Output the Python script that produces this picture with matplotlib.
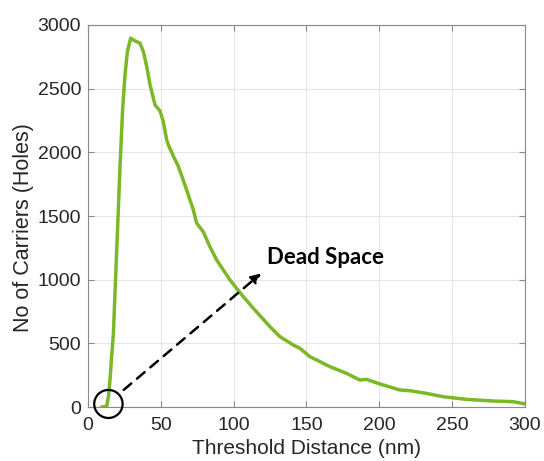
import numpy as np
import matplotlib
matplotlib.use("Agg")
import matplotlib.pyplot as plt
from matplotlib.patches import Ellipse

# threshold distance (nm) and number of carriers (holes)
dist = [9.6, 12.8, 14.0, 15.1, 16.2, 17.4, 19.0, 20.5, 22.0, 23.8, 25.4, 27.0,
        29.3, 32.3, 35.7, 38.0, 40.3, 42.6, 46.0, 49.4, 51.7, 54.0, 55.1, 58.6,
        62.0, 67.7, 72.3, 74.6, 79.1, 83.7, 88.3, 92.9, 97.5, 102.0, 106.6,
        113.5, 124.9, 131.8, 140.9, 145.5, 152.4, 166.1, 177.5, 186.7, 191.2,
        200.4, 214.0, 221.0, 232.4, 243.8, 259.9, 278.4, 292.0, 300.0]
carriers = [0, 5, 81, 212, 400, 570, 1030, 1460, 1901, 2346, 2608, 2791,
            2896, 2875, 2857, 2791, 2674, 2529, 2372, 2325, 2241, 2097, 2060,
            1970, 1890, 1705, 1548, 1443, 1377, 1259, 1155, 1076, 998, 932,
            867, 775, 631, 552, 487, 461, 395, 317, 264, 212, 217, 181, 134,
            128, 107, 81, 60, 47, 42, 24]

xticks = [0, 50, 100, 150, 200, 250, 300]
yticks = [0, 500, 1000, 1500, 2000, 2500, 3000]

plt.rcParams['font.family'] = ['Liberation Sans', 'DejaVu Sans']

fig = plt.figure(figsize=(5.44, 4.61), dpi=100)
ax = fig.add_axes([0.1618, 0.1171, 0.8032, 0.8287])

ax.plot(dist, carriers, color='#7ab828', linewidth=2.5, zorder=3)

ax.set_xlim(0, 300)
ax.set_ylim(0, 3000)
ax.set_xticks(xticks)
ax.set_yticks(yticks)
ax.grid(True, color='#e6e6e6', linewidth=0.8)
ax.set_axisbelow(True)
for s in ax.spines.values():
    s.set_color('#8a8a8a')
    s.set_linewidth(0.8)
ax.tick_params(direction='in', length=4, color='#8a8a8a', labelcolor='#262626',
               labelsize=14, top=True, right=True, labeltop=False, labelright=False)
ax.tick_params(axis='x', pad=7)
ax.tick_params(axis='y', pad=5)
ax.set_xlabel('Threshold Distance (nm)', fontsize=15, color='#262626', labelpad=4)
ax.set_ylabel('No of Carriers (Holes)', fontsize=15.5, color='#262626')
ax.yaxis.set_label_coords(-0.124, 0.47)

# circle around the onset and dashed arrow
ax.add_patch(Ellipse((14, 24), 19.5, 220, fill=False, edgecolor='black',
                     linewidth=1.6, zorder=4, clip_on=False))
ax.annotate('', xy=(120.3, 1063), xytext=(23, 120),
            arrowprops=dict(arrowstyle='-|>', linestyle=(0, (4, 3)), color='black',
                            linewidth=1.8, mutation_scale=14))
ax.text(122.6, 1123, 'Dead Space', fontsize=16, fontweight='bold',
        family=['Lato', 'DejaVu Sans'], color='black')

fig.savefig('out.png', dpi=100)
